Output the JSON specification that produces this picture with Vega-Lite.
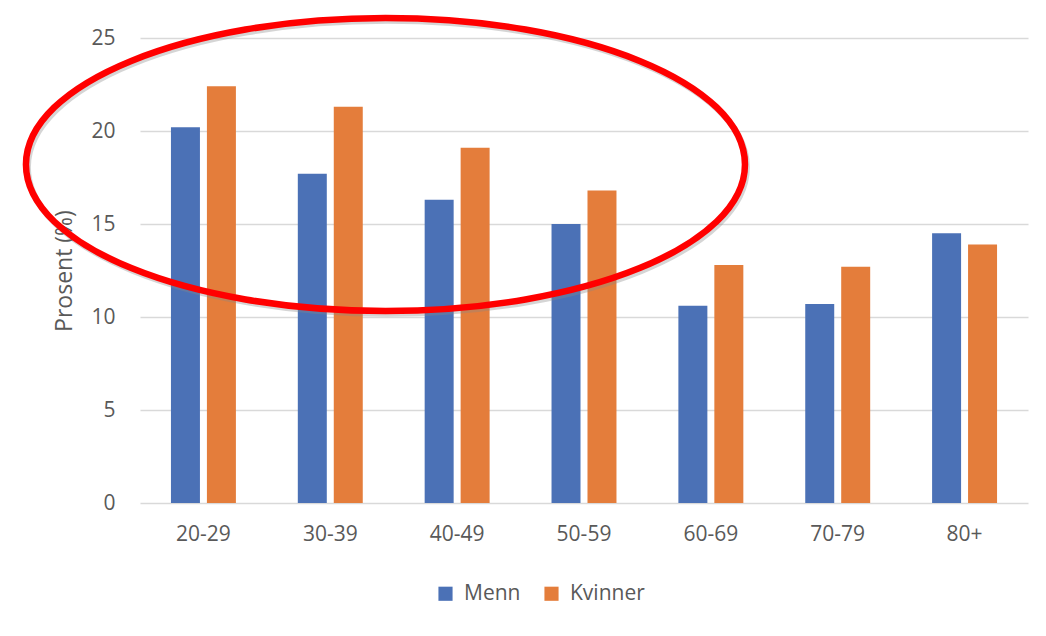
{
  "$schema": "https://vega.github.io/schema/vega-lite/v6.json",
  "width": 888,
  "height": 465,
  "autosize": {"type": "none"},
  "padding": {"left": 140, "top": 38, "right": 18, "bottom": 133},
  "background": "white",
  "config": {"view": {"stroke": null}, "font": "Open Sans"},
  "data": {
    "values": [
      {"alder": "20-29", "kjonn": "Menn", "prosent": 20.2},
      {"alder": "20-29", "kjonn": "Kvinner", "prosent": 22.4},
      {"alder": "30-39", "kjonn": "Menn", "prosent": 17.7},
      {"alder": "30-39", "kjonn": "Kvinner", "prosent": 21.3},
      {"alder": "40-49", "kjonn": "Menn", "prosent": 16.3},
      {"alder": "40-49", "kjonn": "Kvinner", "prosent": 19.1},
      {"alder": "50-59", "kjonn": "Menn", "prosent": 15.0},
      {"alder": "50-59", "kjonn": "Kvinner", "prosent": 16.8},
      {"alder": "60-69", "kjonn": "Menn", "prosent": 10.6},
      {"alder": "60-69", "kjonn": "Kvinner", "prosent": 12.8},
      {"alder": "70-79", "kjonn": "Menn", "prosent": 10.7},
      {"alder": "70-79", "kjonn": "Kvinner", "prosent": 12.7},
      {"alder": "80+", "kjonn": "Menn", "prosent": 14.5},
      {"alder": "80+", "kjonn": "Kvinner", "prosent": 13.9}
    ]
  },
  "layer": [
    {
      "mark": {"type": "bar"},
      "encoding": {
        "x": {
          "field": "alder",
          "type": "nominal",
          "sort": null,
          "scale": {"paddingInner": 0.488, "paddingOuter": 0.244},
          "axis": {
            "title": null,
            "labelAngle": 0,
            "labelFontSize": 21,
            "labelColor": "#595959",
            "ticks": false,
            "domain": false,
            "labelPadding": 20
          }
        },
        "xOffset": {
          "field": "kjonn",
          "type": "nominal",
          "sort": ["Menn", "Kvinner"],
          "scale": {"paddingInner": 0.194}
        },
        "y": {
          "field": "prosent",
          "type": "quantitative",
          "scale": {"domain": [0, 25], "nice": false},
          "axis": {
            "title": "Prosent (%)",
            "values": [0, 5, 10, 15, 20, 25],
            "gridColor": "#d9d9d9",
            "gridWidth": 1.5,
            "domain": false,
            "ticks": false,
            "labelFontSize": 21,
            "labelColor": "#595959",
            "labelPadding": 25,
            "titleFontSize": 23,
            "titleColor": "#595959",
            "titleFontWeight": "normal",
            "titlePadding": 14
          }
        },
        "color": {
          "field": "kjonn",
          "type": "nominal",
          "scale": {"domain": ["Menn", "Kvinner"], "range": ["#4b71b6", "#e47d3b"]},
          "legend": {
            "title": null,
            "orient": "none",
            "legendX": 295,
            "legendY": 545,
            "direction": "horizontal",
            "symbolType": "square",
            "symbolSize": 200,
            "symbolStrokeWidth": 0,
            "labelFontSize": 21,
            "labelColor": "#595959",
            "labelOffset": 8,
            "columnPadding": 20
          }
        }
      }
    },
    {
      "data": {"values": [{"cx": 1.95, "cy": 18.05}]},
      "mark": {
        "type": "point",
        "shape": "M -1 0 A 1 0.4075 0 1 1 1 0 A 1 0.4075 0 1 1 -1 0 Z",
        "filled": false,
        "stroke": "#888888",
        "strokeWidth": 6,
        "opacity": 0.35,
        "size": 516961
      },
      "encoding": {
        "x": {"field": "cx", "type": "quantitative", "scale": {"domain": [0, 7], "nice": false, "zero": false}, "axis": null},
        "y": {"field": "cy", "type": "quantitative", "scale": {"domain": [0, 25], "nice": false}}
      }
    },
    {
      "data": {"values": [{"cx": 1.935, "cy": 18.2}]},
      "mark": {
        "type": "point",
        "shape": "M -1 0 A 1 0.4075 0 1 1 1 0 A 1 0.4075 0 1 1 -1 0 Z",
        "filled": false,
        "stroke": "#ff0000",
        "strokeWidth": 6.5,
        "opacity": 1,
        "size": 516961
      },
      "encoding": {
        "x": {"field": "cx", "type": "quantitative", "scale": {"domain": [0, 7], "nice": false, "zero": false}, "axis": null},
        "y": {"field": "cy", "type": "quantitative", "scale": {"domain": [0, 25], "nice": false}}
      }
    }
  ],
  "resolve": {"scale": {"x": "independent"}}
}
